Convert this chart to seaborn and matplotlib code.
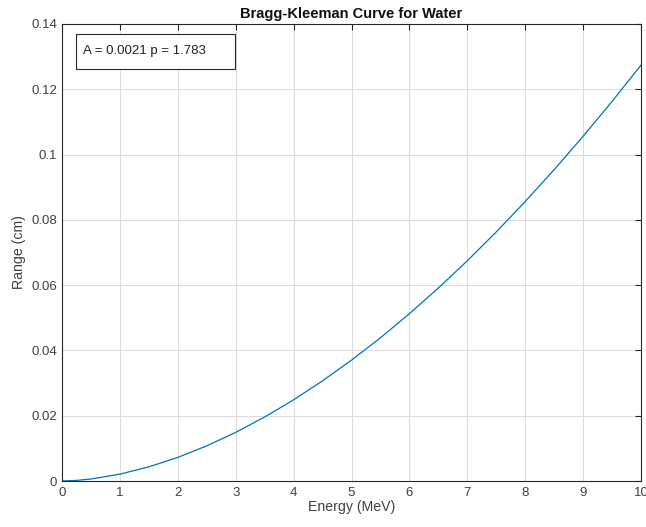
import matplotlib
matplotlib.use("Agg")
import matplotlib.pyplot as plt
from matplotlib.patches import Rectangle
import seaborn as sns
import pandas as pd

energy = [0, 0.25, 0.5, 1, 1.5, 2, 2.5, 3, 3.5, 4, 4.5, 5, 5.5, 6, 6.5, 7, 7.5, 8, 8.5, 9, 9.5, 10]
range_cm = [0, 0.00018, 0.00061, 0.0021, 0.00433, 0.00723, 0.01076, 0.01489, 0.01960, 0.02487,
            0.03069, 0.03702, 0.04387, 0.05124, 0.05912, 0.06746, 0.07629, 0.08560, 0.09538,
            0.10561, 0.11628, 0.12741]
xticks = [0, 1, 2, 3, 4, 5, 6, 7, 8, 9, 10]
yticks = [0, 0.02, 0.04, 0.06, 0.08, 0.1, 0.12, 0.14]
ytick_labels = ["0", "0.02", "0.04", "0.06", "0.08", "0.1", "0.12", "0.14"]
title = "Bragg-Kleeman Curve for Water"
annotation = "A = 0.0021 p = 1.783"

sns.set_theme(style="white")
plt.rcParams['font.family'] = ['Liberation Sans', 'DejaVu Sans']

df = pd.DataFrame({"Energy": energy, "Range": range_cm})

fig = plt.figure(figsize=(6.46, 5.27), dpi=100)
ax = fig.add_axes([62/646, 46/527, (641-62)/646, (481-24)/527])
sns.lineplot(data=df, x="Energy", y="Range", ax=ax, color="#0072BD", linewidth=0.9)

ax.set_xlim(0, 10)
ax.set_ylim(0, 0.14)
ax.set_xticks(xticks)
ax.set_xticklabels([str(t) for t in xticks])
ax.set_yticks(yticks)
ax.set_yticklabels(ytick_labels)
ax.grid(True, color="#dadada", linewidth=0.7)
ax.tick_params(direction="in", length=4, width=0.8, colors="#262626", labelsize=9.5,
               top=True, right=True, labelcolor="#404040")
ax.tick_params(axis="x", pad=4)
for s in ax.spines.values():
    s.set_color("#262626")
    s.set_linewidth(0.8)
    s.set_visible(True)
ax.set_xlabel("Energy (MeV)", fontsize=10.2, color="#404040", labelpad=1)
ax.set_ylabel("Range (cm)", fontsize=10.2, color="#404040", labelpad=4)
ax.set_title(title, fontsize=10.5, fontweight="bold", color="#111111", pad=4)

ax.add_patch(Rectangle((0.024, 0.9015), 0.2746, 0.0766, transform=ax.transAxes,
                       facecolor="white", edgecolor="#262626", linewidth=0.8, zorder=5))
ax.text(0.036, 0.941, annotation, transform=ax.transAxes, fontsize=9.5, color="#222222",
        va="center", ha="left", zorder=6)

fig.savefig("out.png", dpi=100)
